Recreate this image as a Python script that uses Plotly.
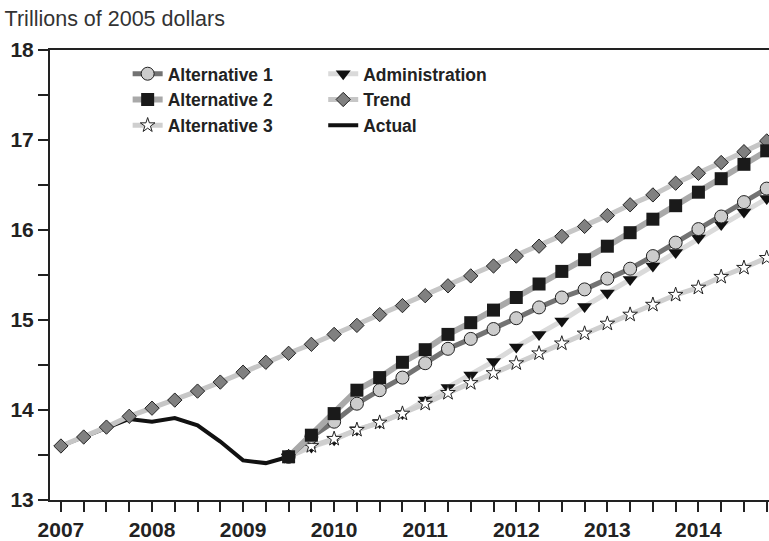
import plotly.graph_objects as go

quarters = [f"{y}Q{q}" for y in range(2007, 2015) for q in range(1, 5)]
year_ticktext = [q[:4] if q.endswith("Q1") else "" for q in quarters]

actual = [13.60, 13.70, 13.81, 13.90, 13.87, 13.91, 13.83, 13.65, 13.44, 13.41, 13.48]
trend = [13.60, 13.70, 13.81, 13.93, 14.02, 14.11, 14.21, 14.31, 14.42, 14.53, 14.63,
         14.73, 14.84, 14.94, 15.06, 15.16, 15.27, 15.38, 15.49, 15.60, 15.71, 15.82,
         15.93, 16.04, 16.16, 16.28, 16.39, 16.52, 16.63, 16.75, 16.87, 16.99]
proj_quarters = quarters[10:]
alt1 = [13.48, 13.70, 13.87, 14.07, 14.22, 14.36, 14.52, 14.68, 14.79, 14.90, 15.02,
        15.14, 15.25, 15.34, 15.46, 15.57, 15.71, 15.86, 16.01, 16.15, 16.31, 16.46]
alt2 = [13.48, 13.72, 13.96, 14.22, 14.36, 14.53, 14.67, 14.84, 14.97, 15.11, 15.25,
        15.40, 15.54, 15.67, 15.82, 15.97, 16.12, 16.27, 16.42, 16.57, 16.73, 16.88]
alt3 = [13.48, 13.60, 13.68, 13.78, 13.86, 13.96, 14.07, 14.19, 14.30, 14.41, 14.52,
        14.63, 14.74, 14.85, 14.96, 15.06, 15.17, 15.28, 15.36, 15.48, 15.58, 15.69]
admin = [13.48, 13.59, 13.67, 13.78, 13.86, 13.96, 14.11, 14.25, 14.39, 14.54, 14.70,
         14.84, 14.99, 15.15, 15.30, 15.45, 15.60, 15.75, 15.91, 16.06, 16.20, 16.35]

FONT = "Liberation Sans"

fig = go.Figure()
fig.add_trace(go.Scatter(x=quarters[:len(actual)], y=actual, name="Actual", mode="lines",
                         line=dict(color="#111111", width=4), legend="legend2", legendrank=3))
fig.add_trace(go.Scatter(x=quarters, y=trend, name="Trend", mode="lines+markers",
                         line=dict(color="#c6c6c6", width=5),
                         marker=dict(symbol="diamond", size=11, color="#808080",
                                     line=dict(color="#222222", width=1)),
                         legend="legend2", legendrank=2))
fig.add_trace(go.Scatter(x=proj_quarters, y=admin, name="Administration", mode="lines+markers",
                         line=dict(color="#dadada", width=5),
                         marker=dict(symbol="triangle-down", size=13, color="#111111"),
                         legend="legend2", legendrank=1))
fig.add_trace(go.Scatter(x=proj_quarters, y=alt3, name="Alternative 3", mode="lines+markers",
                         line=dict(color="#cfcfcf", width=5),
                         marker=dict(symbol="star", size=11, color="#ffffff",
                                     line=dict(color="#222222", width=1)),
                         legend="legend", legendrank=3))
fig.add_trace(go.Scatter(x=proj_quarters, y=alt1, name="Alternative 1", mode="lines+markers",
                         line=dict(color="#737373", width=5),
                         marker=dict(symbol="circle", size=13, color="#cccccc",
                                     line=dict(color="#222222", width=1)),
                         legend="legend", legendrank=1))
fig.add_trace(go.Scatter(x=proj_quarters, y=alt2, name="Alternative 2", mode="lines+markers",
                         line=dict(color="#a9a9a9", width=6),
                         marker=dict(symbol="square", size=13, color="#1a1a1a"),
                         legend="legend", legendrank=2))

legend_font = dict(family=FONT, size=17.5, color="#222222", weight="bold")
fig.update_layout(
    width=769, height=541,
    margin=dict(l=50, r=0, t=50, b=41),
    paper_bgcolor="white", plot_bgcolor="white",
    font=dict(family=FONT),
    title=dict(text="Trillions of 2005 dollars", x=0.006, xanchor="left",
               y=0.966, yanchor="middle", font=dict(family=FONT, size=21.5, color="#333333")),
    legend=dict(x=0.108, y=0.987, xanchor="left", yanchor="top", font=legend_font,
                bgcolor="rgba(0,0,0,0)", tracegroupgap=0, itemwidth=30),
    legend2=dict(x=0.380, y=0.987, xanchor="left", yanchor="top", font=legend_font,
                 bgcolor="rgba(0,0,0,0)", tracegroupgap=0, itemwidth=30),
    showlegend=True,
)
fig.update_xaxes(type="category", categoryorder="array", categoryarray=quarters,
                 range=[-0.48, 31.1], tickmode="array", tickvals=quarters,
                 ticktext=year_ticktext, ticks="outside", ticklen=10, tickwidth=1.5,
                 tickcolor="#222222", showline=True, linecolor="#222222", linewidth=2,
                 mirror=True, showgrid=False, zeroline=False,
                 tickfont=dict(family=FONT, size=21, color="#222222", weight="bold"))
fig.update_yaxes(range=[13, 18], tickmode="linear", tick0=13, dtick=1,
                 ticks="outside", ticklen=10, tickwidth=1.5, tickcolor="#222222",
                 minor=dict(ticks="outside", ticklen=10, tickwidth=1.5, tickcolor="#222222", dtick=0.5, tick0=13),
                 showline=True, linecolor="#222222", linewidth=2, mirror=False,
                 showgrid=False, zeroline=False,
                 tickfont=dict(family=FONT, size=21, color="#222222", weight="bold"))

fig.write_html("out.html", config={"displayModeBar": False},
               post_script="document.body.style.margin='0';document.body.style.overflow='hidden';")
